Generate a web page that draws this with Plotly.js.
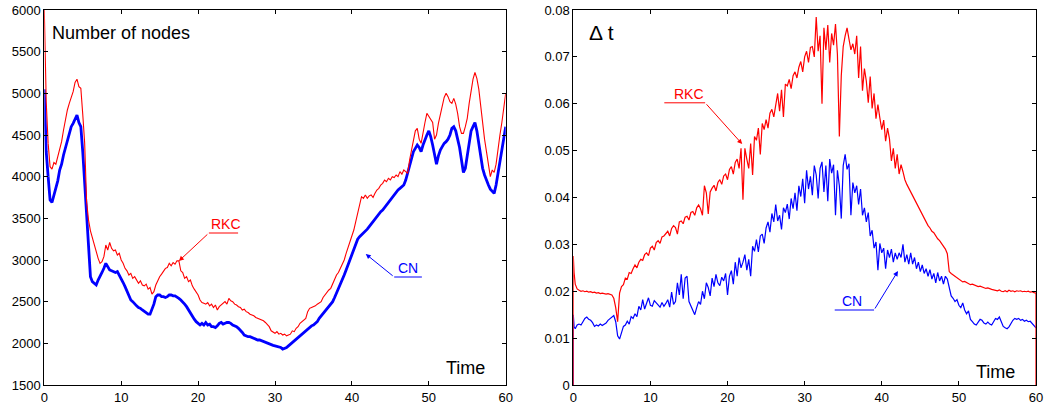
<!DOCTYPE html>
<html>
<head>
<meta charset="utf-8">
<script src="https://cdn.plot.ly/plotly-3.0.1.min.js"></script>
<style>html,body{margin:0;padding:0;background:#fff;}#chart{width:1059px;height:405px;}</style>
</head>
<body>
<div id="chart"></div>
<script>
// ---------- Left panel: number of nodes ----------
const nodesStartTime = [0, 0.1, 0.25, 0.5];
const nodesStartRKC = [6000, 5300, 4900, 4400];
const nodesStartCN = [5050, 4700, 4300, 4000];
const nodesT0 = 0.5, nodesDt = 0.25;
const nodesRKC = [
  4400, 4120,
  4090,4170,4150,4240, 4320,4420,4560,4700, 4800,4880,4950,5020, 5130,5170,5080,5060,
  4750,4400,3700,3480, 3350,3260,3180,3100, 3020,2960,2980,3040, 3180,3120,3210,3140,
  3110,3120,3060,3080, 3000,2960,2900,2870, 2820,2840,2780,2800, 2760,2720,2750,2700,
  2690,2710,2650,2670, 2590,2620,2700,2760, 2800,2830,2870,2900, 2910,2960,2930,2970,
  2950,2990,2990,2870, 2850,2780,2800,2740, 2760,2690,2650,2620, 2580,2520,2490,2480,
  2470,2490,2450,2470, 2430,2460,2400,2440, 2460,2480,2500,2470, 2540,2510,2500,2470,
  2460,2440,2430,2400, 2410,2380,2370,2350, 2340,2330,2310,2300, 2290,2280,2270,2250,
  2230,2200,2150,2130, 2120,2140,2110,2120, 2100,2110,2090,2100, 2110,2150,2140,2180,
  2200,2240,2260,2270, 2300,2380,2420,2430, 2440,2450,2470,2490, 2500,2550,2580,2620,
  2640,2660,2720,2760, 2820,2850,2900,2950, 3000,3080,3150,3230, 3300,3360,3460,3560,
  3700,3760,3740,3780, 3740,3770,3780,3750, 3800,3840,3860,3900, 3920,3960,3940,3980,
  3960,4000,3990,4020, 4000,4060,4030,4080, 4060,4040,4200,4320, 4450,4550,4580,4450,
  4400,4550,4650,4760, 4720,4680,4650,4450, 4500,4640,4750,4850, 4950,5000,4960,4900,
  4880,4940,4870,4760, 4600,4520,4520,4600, 4700,4880,5050,5170, 5250,5180,5050,4820,
  4600,4450,4300,4150, 4000,4080,4050,4150, 4350,4500,4650,4800,
  5000];
const nodesCN = [
  4000, 3720,
  3690,3780,3860,3950, 4080,4150,4260,4350, 4450,4520,4600,4640, 4700,4740,4650,4600,
  4300,3900,3450,3100, 2800,2740,2720,2700, 2760,2800,2850,2900, 2960,2920,2880,2870,
  2860,2850,2860,2820, 2780,2730,2680,2620, 2560,2520,2500,2470, 2450,2430,2420,2400,
  2380,2360,2350,2350, 2400,2470,2560,2580, 2580,2560,2560,2550, 2560,2580,2580,2570,
  2570,2560,2540,2520, 2500,2470,2440,2400, 2370,2330,2290,2260, 2240,2220,2240,2220,
  2250,2220,2230,2200, 2200,2190,2210,2240, 2250,2230,2240,2250, 2250,2240,2220,2210,
  2200,2180,2160,2130, 2100,2090,2080,2080, 2070,2060,2050,2040, 2040,2030,2020,2010,
  2000,1990,1980,1975, 1970,1965,1960,1950, 1930,1940,1950,1970, 1990,2010,2030,2060,
  2080,2100,2110,2130, 2150,2170,2190,2210, 2220,2240,2260,2300, 2330,2360,2390,2410,
  2440,2470,2500,2550, 2600,2650,2700,2760, 2820,2880,2940,3000, 3060,3130,3200,3250,
  3280,3300,3320,3350, 3370,3400,3430,3470, 3500,3530,3560,3580, 3600,3630,3660,3690,
  3720,3760,3790,3810, 3840,3860,3880,3900, 3960,4050,4150,4230, 4300,4340,4380,4350,
  4300,4380,4450,4500, 4550,4480,4380,4250, 4150,4250,4320,4360, 4400,4420,4450,4500,
  4580,4600,4550,4450, 4350,4200,4050,4100, 4250,4420,4550,4600, 4650,4550,4400,4250,
  4100,4020,3950,3900, 3850,3820,3800,3900, 4050,4180,4300,4450,
  4600];

// ---------- Right panel: time step ----------
const dtStartTime = [0, 0, 0.1, 0.25, 0.5, 0.75];
const dtStartRKC = [0, 0.0275, 0.0240, 0.0215, 0.0205, 0.0202];
const dtStartCN = [0, 0.0150, 0.0125, 0.0120, 0.0128, 0.0130];
const dtEndTime = [60, 60];
const dtEndRKC = [0.0196, 0];
const dtT0 = 0.75, dtDt = 0.25;
const dtRKC = [
  0.0202,
  0.0200,0.0201,0.0199,0.0200, 0.0198,0.0199,0.0197,0.0198, 0.0196,0.0197,0.0195,0.0196,
  0.0195,0.0194,0.0195,0.0193, 0.0192,0.0185,0.0165,0.0135, 0.0196,0.0210,0.0214,0.0228,
  0.0226,0.0240,0.0238,0.0248, 0.0256,0.0250,0.0262,0.0268, 0.0266,0.0278,0.0282,0.0276,
  0.0292,0.0296,0.0288,0.0304, 0.0308,0.0302,0.0316,0.0318, 0.0322,0.0328,0.0318,0.0334,
  0.0340,0.0336,0.0322,0.0348, 0.0350,0.0344,0.0358,0.0360, 0.0352,0.0368,0.0370,0.0362,
  0.0378,0.0384,0.0376,0.0362, 0.0425,0.0410,0.0365,0.0412, 0.0420,0.0426,0.0414,0.0432,
  0.0438,0.0428,0.0446,0.0450, 0.0438,0.0460,0.0466,0.0450, 0.0475,0.0482,0.0462,0.0505,
  0.0395,0.0505,0.0482,0.0462, 0.0515,0.0448,0.0530,0.0522, 0.0548,0.0492,0.0558,0.0545,
  0.0566,0.0548,0.0580,0.0588, 0.0572,0.0600,0.0622,0.0584, 0.0630,0.0572,0.0642,0.0638,
  0.0652,0.0632,0.0660,0.0668, 0.0655,0.0678,0.0690,0.0668, 0.0700,0.0712,0.0688,0.0720,
  0.0722,0.0700,0.0785,0.0712, 0.0745,0.0600,0.0762,0.0715, 0.0768,0.0688,0.0750,0.0725,
  0.0770,0.0705,0.0530,0.0660, 0.0722,0.0745,0.0762,0.0738, 0.0715,0.0728,0.0706,0.0745,
  0.0655,0.0722,0.0628,0.0675, 0.0648,0.0602,0.0658,0.0590, 0.0622,0.0568,0.0598,0.0570,
  0.0545,0.0565,0.0520,0.0548, 0.0525,0.0478,0.0505,0.0462, 0.0492,0.0450,0.0470,0.0455,
  0.0438,0.0428,0.0420,0.0412, 0.0402,0.0395,0.0388,0.0378, 0.0372,0.0362,0.0355,0.0348,
  0.0340,0.0335,0.0328,0.0325, 0.0318,0.0312,0.0308,0.0302, 0.0298,0.0290,0.0280,0.0242,
  0.0238,0.0235,0.0232,0.0228, 0.0226,0.0224,0.0220,0.0221, 0.0218,0.0216,0.0214,0.0215,
  0.0213,0.0212,0.0210,0.0211, 0.0209,0.0208,0.0206,0.0207, 0.0205,0.0204,0.0203,0.0202,
  0.0201,0.0203,0.0200,0.0199, 0.0201,0.0199,0.0202,0.0200, 0.0201,0.0199,0.0201,0.0200,
  0.0201,0.0199,0.0200,0.0199, 0.0200,0.0198,0.0199,0.0197,
  0.0196];
const dtCN = [
  0.0130,
  0.0128,0.0135,0.0142,0.0145, 0.0140,0.0138,0.0133,0.0125, 0.0128,0.0126,0.0130,0.0127,
  0.0129,0.0132,0.0138,0.0142, 0.0145,0.0148,0.0135,0.0105, 0.0098,0.0112,0.0125,0.0128,
  0.0136,0.0130,0.0146,0.0142, 0.0152,0.0146,0.0168,0.0160, 0.0182,0.0162,0.0176,0.0186,
  0.0170,0.0168,0.0180,0.0176, 0.0172,0.0166,0.0176,0.0168, 0.0174,0.0182,0.0166,0.0198,
  0.0172,0.0178,0.0218,0.0192, 0.0236,0.0184,0.0228,0.0232, 0.0178,0.0168,0.0158,0.0150,
  0.0165,0.0178,0.0172,0.0200, 0.0184,0.0218,0.0208,0.0190, 0.0228,0.0210,0.0236,0.0218,
  0.0212,0.0230,0.0222,0.0238, 0.0192,0.0232,0.0244,0.0215, 0.0262,0.0232,0.0272,0.0250,
  0.0262,0.0278,0.0245,0.0268, 0.0232,0.0296,0.0285,0.0310, 0.0284,0.0318,0.0322,0.0302,
  0.0335,0.0348,0.0326,0.0366, 0.0348,0.0385,0.0350,0.0362, 0.0332,0.0378,0.0368,0.0386,
  0.0354,0.0398,0.0376,0.0410, 0.0372,0.0425,0.0402,0.0440, 0.0388,0.0458,0.0418,0.0445,
  0.0405,0.0468,0.0448,0.0398, 0.0462,0.0476,0.0412,0.0468, 0.0392,0.0482,0.0452,0.0470,
  0.0362,0.0458,0.0425,0.0355, 0.0468,0.0492,0.0460,0.0472, 0.0362,0.0432,0.0410,0.0425,
  0.0385,0.0418,0.0362,0.0378, 0.0348,0.0368,0.0318,0.0330, 0.0292,0.0305,0.0245,0.0302,
  0.0282,0.0292,0.0248,0.0288, 0.0272,0.0290,0.0262,0.0282, 0.0268,0.0282,0.0272,0.0300,
  0.0262,0.0278,0.0258,0.0282, 0.0258,0.0272,0.0248,0.0262, 0.0242,0.0256,0.0238,0.0248,
  0.0232,0.0246,0.0226,0.0238, 0.0218,0.0240,0.0222,0.0232, 0.0215,0.0232,0.0226,0.0208,
  0.0190,0.0185,0.0178,0.0182, 0.0170,0.0165,0.0175,0.0160, 0.0152,0.0158,0.0140,0.0135,
  0.0130,0.0128,0.0135,0.0140, 0.0138,0.0132,0.0130,0.0134, 0.0130,0.0128,0.0135,0.0142,
  0.0140,0.0145,0.0135,0.0125, 0.0122,0.0120,0.0124,0.0132, 0.0138,0.0142,0.0140,0.0142,
  0.0138,0.0140,0.0136,0.0138, 0.0135,0.0136,0.0132,0.0128,
  0.0122];

const RED = '#ff0000', BLUE = '#0000ff';
const FONT = 'Liberation Sans, Arial, sans-serif';

function ln(x, y, color, w, xa, ya) {
  return {type: 'scatter', mode: 'lines', x: x, y: y, xaxis: xa, yaxis: ya,
          line: {color: color, width: w}, hoverinfo: 'skip', showlegend: false};
}
function lnD(y, x0, dx, color, w, xa, ya) {
  return {type: 'scatter', mode: 'lines', y: y, x0: x0, dx: dx, xaxis: xa, yaxis: ya,
          line: {color: color, width: w}, hoverinfo: 'skip', showlegend: false};
}

const traces = [
  ln(nodesStartTime, nodesStartCN, BLUE, 2.8, 'x', 'y'),
  lnD(nodesCN, nodesT0, nodesDt, BLUE, 2.8, 'x', 'y'),
  ln(nodesStartTime, nodesStartRKC, RED, 1.1, 'x', 'y'),
  lnD(nodesRKC, nodesT0, nodesDt, RED, 1.1, 'x', 'y'),
  ln(dtStartTime, dtStartCN, BLUE, 1.2, 'x2', 'y2'),
  lnD(dtCN, dtT0, dtDt, BLUE, 1.2, 'x2', 'y2'),
  ln(dtStartTime, dtStartRKC, RED, 1.2, 'x2', 'y2'),
  lnD(dtRKC, dtT0, dtDt, RED, 1.2, 'x2', 'y2'),
  ln(dtEndTime, dtEndRKC, RED, 1.2, 'x2', 'y2')
];

const axisCommon = {
  showgrid: false, zeroline: false, showline: true, linecolor: '#000', linewidth: 1,
  mirror: 'ticks', ticks: 'inside', ticklen: 4, tickcolor: '#000', tickwidth: 1,
  tickfont: {family: FONT, size: 13, color: '#000'}
};

const layout = {
  width: 1059, height: 405,
  margin: {l: 0, r: 0, t: 0, b: 0},
  paper_bgcolor: '#fff', plot_bgcolor: '#fff',
  showlegend: false,
  xaxis: Object.assign({}, axisCommon, {domain: [44.3/1059, 505.7/1059], range: [0, 60], tickvals: [0,10,20,30,40,50,60], anchor: 'y'}),
  yaxis: Object.assign({}, axisCommon, {domain: [20/405, 395/405], range: [1500, 6000], tickvals: [1500,2000,2500,3000,3500,4000,4500,5000,5500,6000], anchor: 'x'}),
  xaxis2: Object.assign({}, axisCommon, {domain: [573.3/1059, 1036/1059], range: [0, 60], tickvals: [0,10,20,30,40,50,60], anchor: 'y2'}),
  yaxis2: Object.assign({}, axisCommon, {domain: [20/405, 395/405], range: [0, 0.08], tickvals: [0,0.01,0.02,0.03,0.04,0.05,0.06,0.07,0.08], ticktext: ['0','0.01','0.02','0.03','0.04','0.05','0.06','0.07','0.08'], anchor: 'x2'}),
  shapes: [
    {type: 'line', xref: 'x', yref: 'y', x0: 21.4, x1: 25.2, y0: 3324, y1: 3324, line: {color: RED, width: 1}},
    {type: 'line', xref: 'x', yref: 'y', x0: 45.5, x1: 49.1, y0: 2796, y1: 2796, line: {color: BLUE, width: 1}},
    {type: 'line', xref: 'x2', yref: 'y2', x0: 11.8, x1: 17.1, y0: 0.0602, y1: 0.0602, line: {color: RED, width: 1}},
    {type: 'line', xref: 'x2', yref: 'y2', x0: 33.9, x1: 39.0, y0: 0.016, y1: 0.016, line: {color: BLUE, width: 1}}
  ],
  annotations: [
    {xref: 'x domain', yref: 'y domain', x: 0.012, y: 0.94, xanchor: 'left', yanchor: 'middle', showarrow: false,
     text: 'Number of nodes', font: {family: FONT, size: 18, color: '#000'}},
    {xref: 'x domain', yref: 'y domain', x: 0.96, y: 0.045, xanchor: 'right', yanchor: 'middle', showarrow: false,
     text: 'Time', font: {family: FONT, size: 18, color: '#000'}},
    {xref: 'x2 domain', yref: 'y2 domain', x: 0.03, y: 0.94, xanchor: 'left', yanchor: 'middle', showarrow: false,
     text: 'Δ t', font: {family: FONT, size: 21, color: '#000'}},
    {xref: 'x2 domain', yref: 'y2 domain', x: 0.96, y: 0.035, xanchor: 'right', yanchor: 'middle', showarrow: false,
     text: 'Time', font: {family: FONT, size: 18, color: '#000'}},
    // labels
    {xref: 'x', yref: 'y', x: 23.6, y: 3324, xanchor: 'center', yanchor: 'bottom', showarrow: false, yshift: -1,
     text: 'RKC', font: {family: FONT, size: 14, color: RED}},
    {xref: 'x', yref: 'y', x: 47.3, y: 2796, xanchor: 'center', yanchor: 'bottom', showarrow: false, yshift: -1,
     text: 'CN', font: {family: FONT, size: 14, color: BLUE}},
    {xref: 'x2', yref: 'y2', x: 15.0, y: 0.0602, xanchor: 'center', yanchor: 'bottom', showarrow: false, yshift: -1,
     text: 'RKC', font: {family: FONT, size: 14, color: RED}},
    {xref: 'x2', yref: 'y2', x: 36.1, y: 0.016, xanchor: 'center', yanchor: 'bottom', showarrow: false, yshift: -1,
     text: 'CN', font: {family: FONT, size: 14, color: BLUE}},
    // arrows
    {xref: 'x', yref: 'y', axref: 'x', ayref: 'y', x: 17.5, y: 2988, ax: 21.4, ay: 3324, text: '', showarrow: true,
     arrowhead: 2, arrowsize: 1, arrowwidth: 1, arrowcolor: RED, standoff: 0},
    {xref: 'x', yref: 'y', axref: 'x', ayref: 'y', x: 41.8, y: 3072, ax: 45.5, ay: 2796, text: '', showarrow: true,
     arrowhead: 2, arrowsize: 1, arrowwidth: 1, arrowcolor: BLUE, standoff: 0},
    {xref: 'x2', yref: 'y2', axref: 'x2', ayref: 'y2', x: 21.9, y: 0.0514, ax: 17.1, ay: 0.0602, text: '', showarrow: true,
     arrowhead: 2, arrowsize: 1, arrowwidth: 1, arrowcolor: RED, standoff: 0},
    {xref: 'x2', yref: 'y2', axref: 'x2', ayref: 'y2', x: 42.1, y: 0.0243, ax: 39.0, ay: 0.016, text: '', showarrow: true,
     arrowhead: 2, arrowsize: 1, arrowwidth: 1, arrowcolor: BLUE, standoff: 0}
  ]
};

Plotly.newPlot('chart', traces, layout, {displayModeBar: false, staticPlot: true});
</script>
</body>
</html>
